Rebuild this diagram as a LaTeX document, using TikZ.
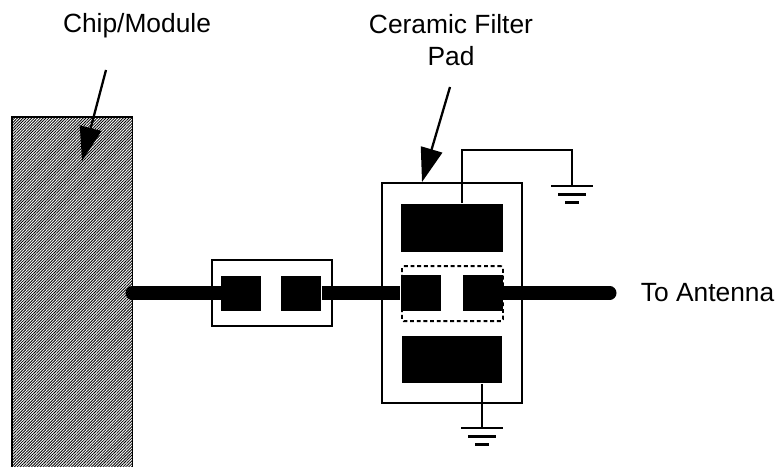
\documentclass[tikz,border=0pt]{standalone}
\usepackage{fontspec}
\setmainfont{Liberation Sans}
\usetikzlibrary{arrows.meta, positioning, patterns.meta}

\begin{document}
\begin{tikzpicture}[
    x=0.2mm, y=-0.2mm,
    line width=1.1pt,
    label/.style={font=\fontsize{15}{18.5}\selectfont, align=center},
    padbox/.style={rectangle, draw=black, inner sep=0pt},
    pad/.style={rectangle, fill=black, inner sep=0pt},
    trace/.style={line width=7.4pt, line cap=round},
    arrow/.style={line width=1.3pt, -{Triangle[length=6.8mm, width=4.4mm]}},
    gndbar/.style={line width=1.2pt}
]
\useasboundingbox (0,0) rectangle (779,467);

% Chip
\fill[pattern={Lines[angle=45, distance=1.15pt, line width=0.47pt]}] (12,117) rectangle (132.5,467);
\draw (12,467) -- (12,117) -- (132.5,117) -- (132.5,467);
\coordinate (chip_tip) at (82,161);
\coordinate (chip_pin) at (132,293);

% Labels
\node[label] (chip_label) at (137,26) {Chip/Module};
\node[label] (filter_label) at (451,40) {Ceramic Filter\\Pad};
\node[label, anchor=west, inner sep=0pt] (antenna) at (640,293) {To Antenna};
\coordinate (chip_tail) at (106,70);
\coordinate (filter_tail) at (450,87);

% Small pad box
\node[padbox, minimum width=24mm, minimum height=13.2mm] (small_box) at (272,293) {};
\node[pad, minimum width=7.9mm, minimum height=7mm] (pad_a) at (241,293.5) {};
\node[pad, minimum width=8mm, minimum height=7mm] (pad_b) at (301,293.5) {};

% Filter
\node[padbox, minimum width=28mm, minimum height=44mm] (filter) at (452,293) {};
\node[pad, minimum width=20.4mm, minimum height=9.6mm] (pad_top) at (452,228) {};
\node[pad, minimum width=20mm, minimum height=9.4mm] (pad_bot) at (452,359.5) {};
\node[pad, minimum width=8mm, minimum height=7.2mm] (pad_c) at (421,293) {};
\node[pad, minimum width=7.9mm, minimum height=7.2mm] (pad_d) at (483,293) {};
\node[rectangle, draw=black, dash pattern=on 2.2pt off 1.6pt, rounded corners=1pt, minimum width=20.2mm, minimum height=11mm, inner sep=0pt] (cell) at (452.5,293.7) {};
\coordinate (tx_end) at (610,293);

% Traces
\draw[trace] (chip_pin) -- (pad_a.west |- chip_pin);
\draw[line width=7.4pt] (pad_b.east |- chip_pin) -- (pad_c.west |- chip_pin);
\draw[trace] (pad_d.east |- chip_pin) -- (tx_end);

% Ground wires
\coordinate (gnd_a) at (572,186);
\coordinate (gnd_b) at (482,428);
\draw (pad_top.north -| 462,204) -- (462,150) -- (572,150) -- (gnd_a);
\draw (pad_bot.south -| gnd_b) -- (gnd_b);
\foreach \gx/\gy in {572/186, 482/428} {
    \draw[gndbar] (\gx-21,\gy) -- (\gx+21,\gy);
    \draw[gndbar] (\gx-14,\gy+8.5) -- (\gx+14,\gy+8.5);
    \draw[gndbar] (\gx-7,\gy+16.5) -- (\gx+7,\gy+16.5);
}

% Arrows
\draw[arrow] (chip_tail) -- (chip_tip);
\draw[arrow] (filter_tail) -- (filter.north -| 422,183);

\end{tikzpicture}
\end{document}
